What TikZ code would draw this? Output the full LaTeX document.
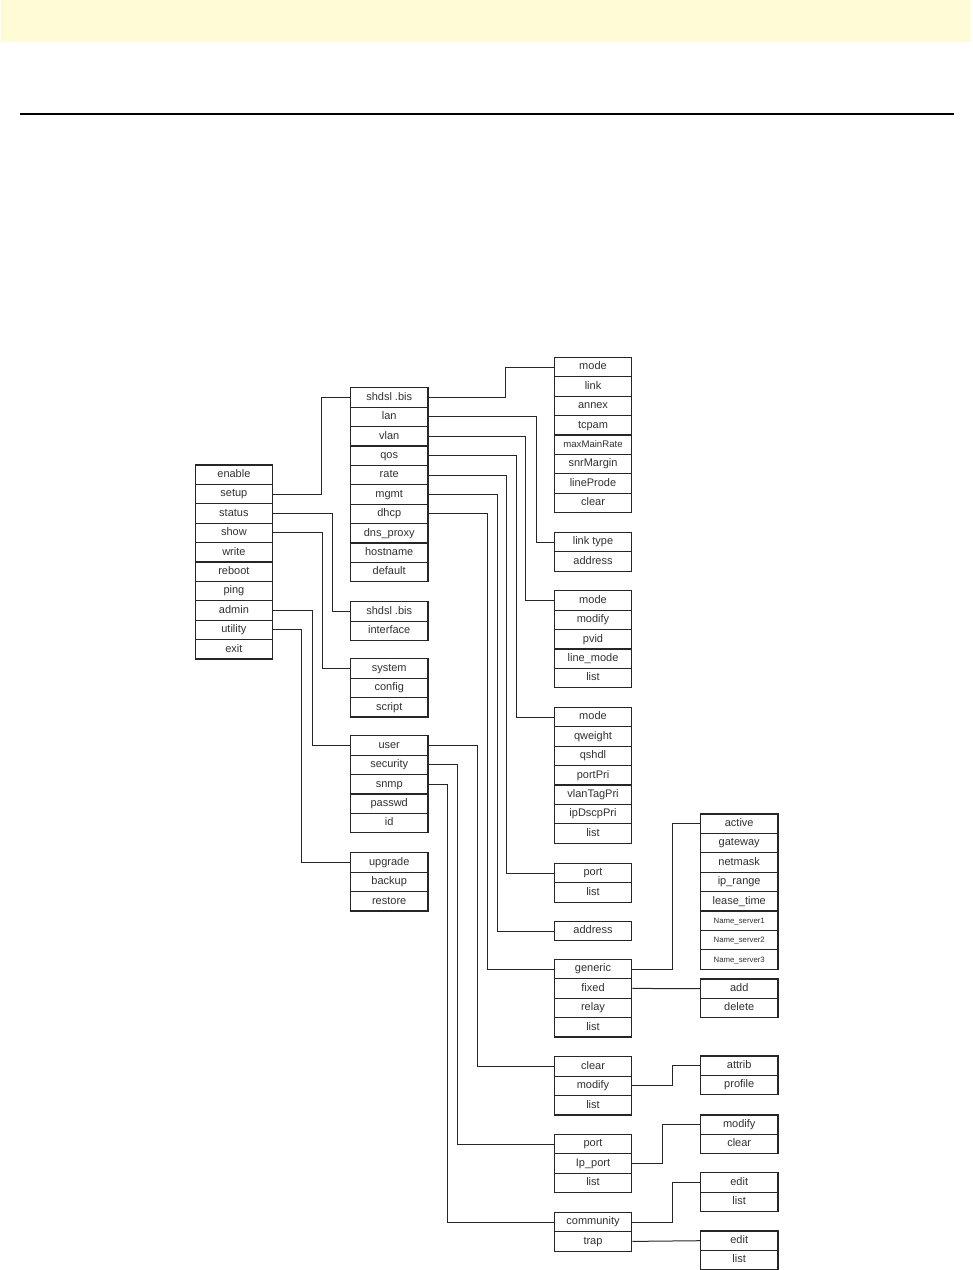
\documentclass[tikz,border=0pt]{standalone}
\usepackage{fontspec}
\setmainfont{Liberation Sans}
\usepackage{xcolor}
\usepackage{tikz}
\usetikzlibrary{positioning}
\definecolor{bandYellow}{HTML}{FFFBD6}
\definecolor{lineDark}{HTML}{262626}
\definecolor{textGray}{HTML}{303030}
% one column of stacked command cells: name, x centre, top, items
\newcommand{\cmdstack}[4]{%
  \foreach \t [count=\i] in {#4}
    \node[cell] (#1-\i) at (#2, #3+\i*19.4-9.7) {\t};}

\begin{document}
\begin{tikzpicture}[x=1pt, y=-1pt,
      cell/.style={draw=lineDark, line width=1.2pt, minimum width=77.5pt,
                   minimum height=19.4pt, inner sep=0pt, text=textGray,
                   text height=7.9pt, text depth=2.2pt,
                   font=\fontsize{11}{13}\selectfont},
      link/.style={draw=lineDark, line width=1pt}
    ]
    \useasboundingbox (0,0) rectangle (973,1270);
    \fill[bandYellow] (1,0) rectangle (971,41.5);
    \draw[line width=1.4pt] (20,114) -- (954,114);

    % root commands
    \cmdstack{root}{233.9}{465}{enable,setup,status,show,write,reboot,ping,admin,utility,exit}
    % second level
    \cmdstack{cfg}{389.2}{387.7}{shdsl .bis,lan,vlan,qos,rate,mgmt,dhcp,dns\_proxy,hostname,default}
    \cmdstack{stat}{389.2}{601.7}{shdsl .bis,interface}
    \cmdstack{show}{389.2}{658.7}{system,config,script}
    \cmdstack{adm}{389.2}{735.7}{user,security,snmp,passwd,id}
    \cmdstack{util}{389.2}{852.7}{upgrade,backup,restore}
    % third level
    \cmdstack{shd}{593}{357.3}{mode,link,annex,tcpam,{\fontsize{9.6}{11}\selectfont maxMainRate},snrMargin,lineProde,clear}
    \cmdstack{lan}{593}{532.3}{link type,address}
    \cmdstack{vlan}{593}{590.7}{mode,modify,pvid,line\_mode,list}
    \cmdstack{qos}{593}{707.3}{mode,qweight,qshdl,portPri,vlanTagPri,ipDscpPri,list}
    \cmdstack{rate}{593}{863.3}{port,list}
    \cmdstack{mgmt}{593}{921.3}{address}
    \cmdstack{dhcp}{593}{959.3}{generic,fixed,relay,list}
    \cmdstack{user}{593}{1056.7}{clear,modify,list}
    \cmdstack{sec}{593}{1134.3}{port,Ip\_port,list}
    \cmdstack{snmp}{593}{1212.3}{community,trap}
    % fourth level
    \cmdstack{gen}{739.2}{814}{active,gateway,netmask,ip\_range,lease\_time,{\fontsize{7.8}{9}\selectfont Name\_server1},{\fontsize{7.8}{9}\selectfont Name\_server2},{\fontsize{7.8}{9}\selectfont Name\_server3}}
    \cmdstack{fix}{739.2}{979}{add,delete}
    \cmdstack{umod}{739.2}{1056}{attrib,profile}
    \cmdstack{ipp}{739.2}{1115}{modify,clear}
    \cmdstack{comm}{739.2}{1172.7}{edit,list}
    \cmdstack{trap}{739.2}{1231}{edit,list}

    % root -> second level
    \draw[link] (root-2.east) -- ([xshift=48.4pt]root-2.east) |- (cfg-1.west);
    \draw[link] (root-3.east) -- ([xshift=59pt]root-3.east) |- (stat-1.west);
    \draw[link] (root-4.east) -- ([xshift=48.8pt]root-4.east) |- (show-1.west);
    \draw[link] (root-8.east) -- ([xshift=39.3pt]root-8.east) |- (adm-1.west);
    \draw[link] (root-9.east) -- ([xshift=28.6pt]root-9.east) |- (util-1.west);
    % configuration -> third level
    \draw[link] (cfg-1.east) -- ([xshift=77.4pt]cfg-1.east) |- (shd-1.west);
    \draw[link] (cfg-2.east) -- ([xshift=107.8pt]cfg-2.east) |- (lan-1.west);
    \draw[link] (cfg-3.east) -- ([xshift=96.8pt]cfg-3.east) |- (vlan-1.west);
    \draw[link] (cfg-4.east) -- ([xshift=88pt]cfg-4.east) |- (qos-1.west);
    \draw[link] (cfg-5.east) -- ([xshift=77.9pt]cfg-5.east) |- (rate-1.west);
    \draw[link] (cfg-6.east) -- ([xshift=68.8pt]cfg-6.east) |- (mgmt-1.west);
    \draw[link] (cfg-7.east) -- ([xshift=58.8pt]cfg-7.east) |- (dhcp-1.west);
    % admin -> third level
    \draw[link] (adm-1.east) -- ([xshift=48.8pt]adm-1.east) |- (user-1.west);
    \draw[link] (adm-2.east) -- ([xshift=28.8pt]adm-2.east) |- (sec-1.west);
    \draw[link] (adm-3.east) -- ([xshift=19pt]adm-3.east) |- (snmp-1.west);
    % third -> fourth level
    \draw[link] (dhcp-1.east) -- ([xshift=40pt]dhcp-1.east) |- (gen-1.west);
    \draw[link] (dhcp-2.east) -- (fix-1.west);
    \draw[link] (user-2.east) -- ([xshift=40pt]user-2.east) |- (umod-1.west);
    \draw[link] (sec-2.east) -- ([xshift=30pt]sec-2.east) |- (ipp-1.west);
    \draw[link] (snmp-1.east) -- ([xshift=40pt]snmp-1.east) |- (comm-1.west);
    \draw[link] (snmp-2.east) -- (trap-1.west);
  \end{tikzpicture}
\end{document}
